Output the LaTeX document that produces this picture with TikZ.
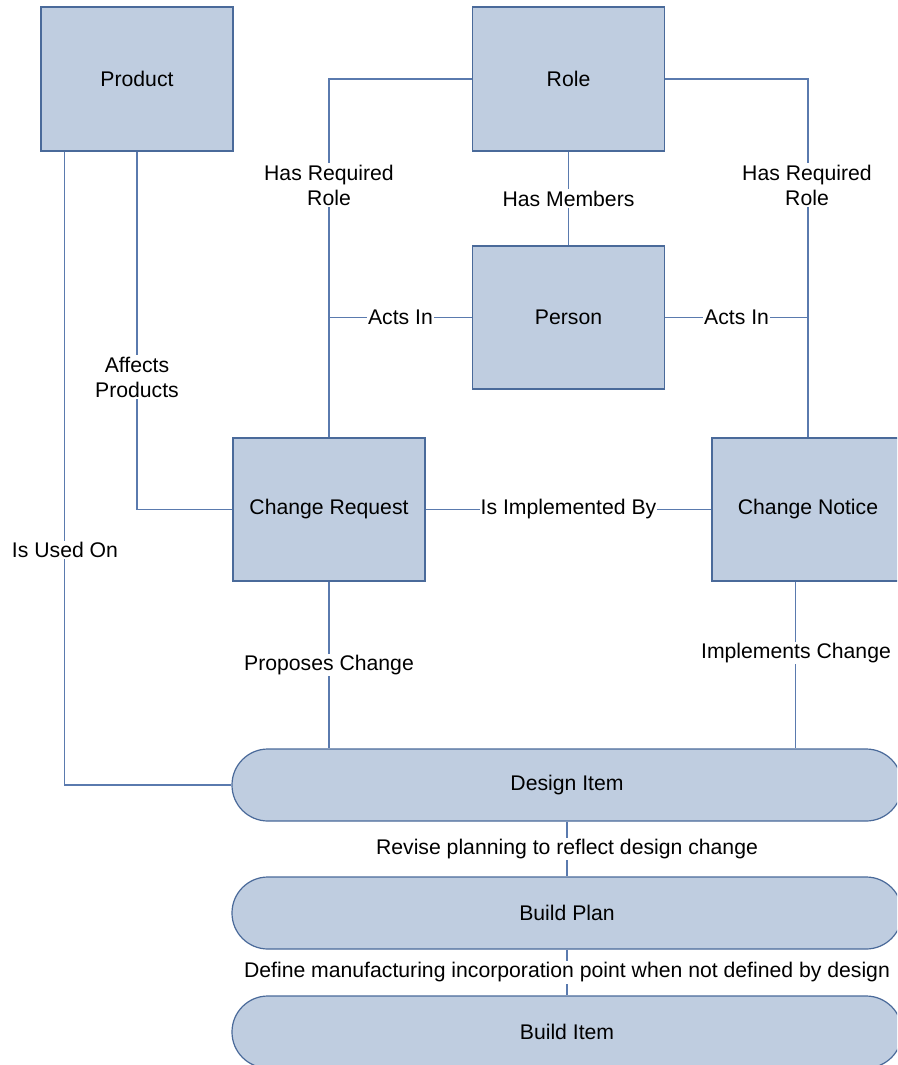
\documentclass[tikz,border=0pt]{standalone}
\usepackage{fontspec}
\setmainfont{Liberation Sans}
\definecolor{boxfill}{HTML}{BFCDE0}
\definecolor{boxline}{HTML}{4A6A9A}
\definecolor{linkline}{HTML}{5A7AAE}
\begin{document}
\begin{tikzpicture}[x=1pt,y=-1pt,
  every node/.style={font=\fontsize{21.2}{25}\selectfont, text=black},
  entity/.style={draw=boxline, fill=boxfill, line width=1.2pt, minimum width=192pt, minimum height=144pt, inner sep=0pt},
  pill/.style={draw=boxline, fill=boxfill, line width=1.2pt, minimum width=670pt, minimum height=72pt, rounded corners=35.9pt, inner sep=0pt},
  link/.style={draw=linkline, line width=1.1pt},
  lbl/.style={fill=white, inner sep=1.5pt, align=center}]
\clip (0,0) rectangle (897,1065);
\fill[white] (0,0) rectangle (897,1065);

% entities
\node[entity] (product) at (137,79) {Product};
\node[entity] (role) at (568.5,79) {Role};
\node[entity, minimum height=143pt] (person) at (568.5,317.5) {Person};
\node[entity, minimum height=143pt] (cr) at (329,509.5) {Change Request};
\node[entity, minimum height=143pt] (cn) at (808,509.5) {Change Notice};

% item pills
\node[pill] (design) at (567,785) {Design Item};
\node[pill] (plan) at (567,913) {Build Plan};
\node[pill] (build) at (567,1032) {Build Item};

% connector anchors off the box centres
\coordinate (usedon) at ([xshift=24pt]product.south west);
\coordinate (cnfoot) at ([xshift=84pt]cn.south west);

% connectors
\draw[link] (usedon) |- (design.west);
\draw[link] (product.south) |- (cr.west);
\draw[link] (role.west) -| (cr.north);
\draw[link] (role.east) -| (cn.north);
\draw[link] (role.south) -- node[lbl] {Has Members} (person.north);
\draw[link] (person.west) -- node[lbl, inner sep=1pt] {Acts In} (person.west -| cr.north);
\draw[link] (person.east) -- node[lbl, inner sep=1pt] {Acts In} (person.east -| cn.north);
\draw[link] (cr.east) -- node[lbl, inner sep=1pt] {Is Implemented By} (cn.west);
\draw[link] (cr.south) -- node[lbl] {Proposes Change} (cr.south |- design.north);
\draw[link] (cnfoot) -- (cnfoot |- design.north);
\draw[link] (design.south) -- node[lbl] {Revise planning to reflect design change} (plan.north);
\draw[link] (plan.south) -- node[lbl] {Define manufacturing incorporation point when not defined by design} (build.north);

% labels placed along the long connectors
\node[lbl] (lusedon) at (65,550) {Is Used On};
\node[lbl] (laffects) at (137,377) {Affects\\Products};
\node[lbl] (lreqleft) at (329,185) {Has Required\\Role};
\node[lbl] (lreqright) at (807,185) {Has Required\\Role};
\node[lbl] (limpl) at (796,653) {Implements Change};
\end{tikzpicture}
\end{document}
